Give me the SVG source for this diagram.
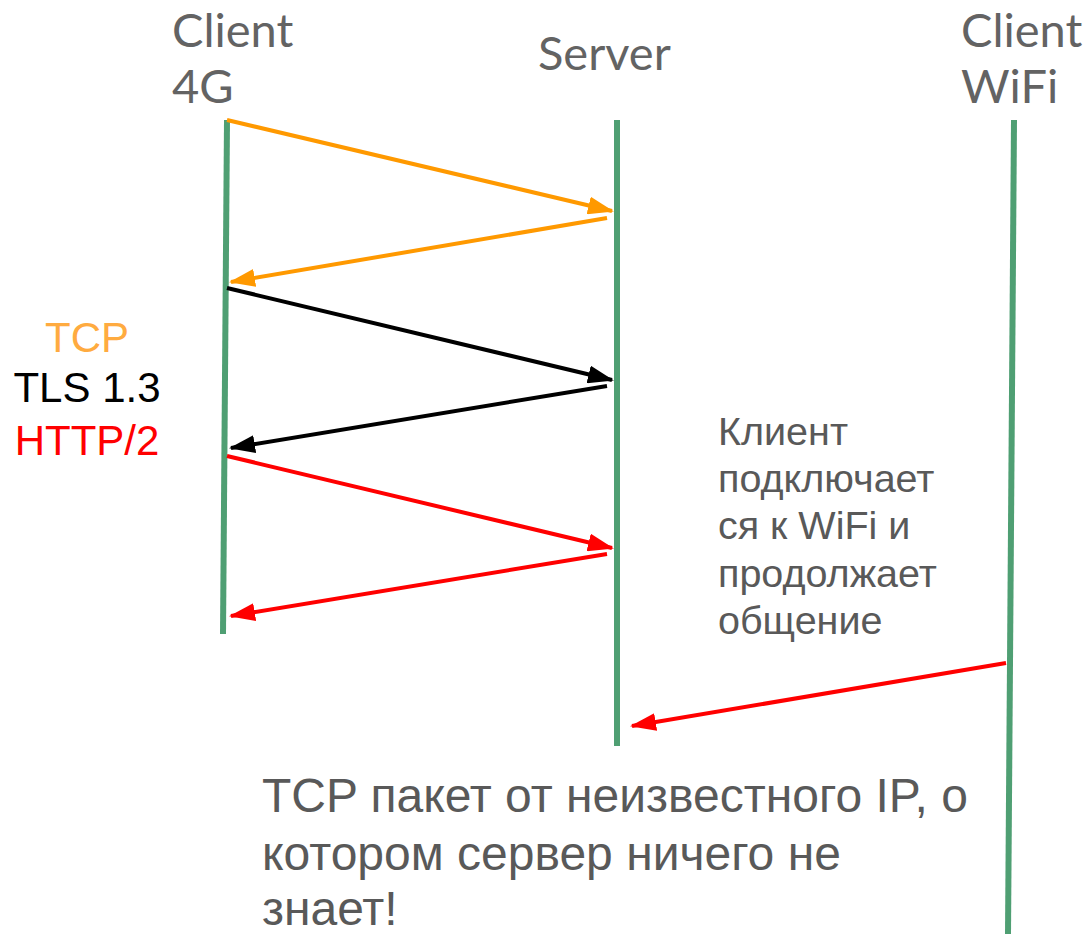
<svg xmlns="http://www.w3.org/2000/svg" width="1087" height="934" viewBox="0 0 1087 934">
<style>
.hdr{font-family:Lato,"Open Sans",sans-serif;font-size:47px;fill:#636363}
.life{stroke:#4f9f73;stroke-width:6;fill:none}
.msg{stroke-width:4;fill:none}
.or{stroke:#ff9900}
.bk{stroke:#000}
.rd{stroke:#ff0000}
.lbl{font-family:"Liberation Sans",Arial,sans-serif}
</style>
<defs>
<marker id="ahO" viewBox="0 0 26 18" refX="24" refY="9" markerWidth="26" markerHeight="18" markerUnits="userSpaceOnUse" orient="auto"><path d="M0,0L26,9L0,18z" fill="#ff9900"/></marker>
<marker id="ahK" viewBox="0 0 26 18" refX="24" refY="9" markerWidth="26" markerHeight="18" markerUnits="userSpaceOnUse" orient="auto"><path d="M0,0L26,9L0,18z" fill="#000"/></marker>
<marker id="ahR" viewBox="0 0 26 18" refX="24" refY="9" markerWidth="26" markerHeight="18" markerUnits="userSpaceOnUse" orient="auto"><path d="M0,0L26,9L0,18z" fill="#ff0000"/></marker>
</defs>
<rect width="1087" height="934" fill="#fff"/>
<g id="client4g">
<text class="hdr" x="172" y="47">Client</text>
<text class="hdr" x="172" y="103">4G</text>
<line class="life" x1="227" y1="120" x2="223" y2="634"/>
</g>
<g id="server">
<text class="hdr" x="538" y="70">Server</text>
<line class="life" x1="617" y1="120" x2="617" y2="746"/>
</g>
<g id="clientwifi">
<text class="hdr" x="961" y="47">Client</text>
<text class="hdr" x="961" y="103">WiFi</text>
<line class="life" x1="1014" y1="120" x2="1008" y2="934"/>
</g>
<g id="connectors">
<line class="msg or" x1="227" y1="120" x2="612" y2="211" marker-end="url(#ahO)"/>
<line class="msg or" x1="607" y1="218" x2="231" y2="282" marker-end="url(#ahO)"/>
<line class="msg bk" x1="227" y1="288" x2="612" y2="380" marker-end="url(#ahK)"/>
<line class="msg bk" x1="607" y1="386" x2="231" y2="448" marker-end="url(#ahK)"/>
<line class="msg rd" x1="227" y1="456" x2="612" y2="548" marker-end="url(#ahR)"/>
<line class="msg rd" x1="607" y1="554" x2="231" y2="616" marker-end="url(#ahR)"/>
<line class="msg rd" x1="1006" y1="663" x2="632" y2="726" marker-end="url(#ahR)"/>
</g>
<g id="legend" class="lbl" font-size="42" text-anchor="middle">
<text x="87" y="352" fill="#ffab40">TCP</text>
<text x="87" y="402" fill="#000">TLS 1.3</text>
<text x="87" y="455" fill="#ff0000">HTTP/2</text>
</g>
<g id="note" class="lbl" font-size="39.5" fill="#595959">
<text x="718" y="445">Клиент</text>
<text x="718" y="492">подключает</text>
<text x="718" y="539">ся к WiFi и</text>
<text x="718" y="587">продолжает</text>
<text x="718" y="634">общение</text>
</g>
<g id="caption" class="lbl" font-size="48" fill="#595959">
<text x="262" y="812">TCP пакет от неизвестного IP, о</text>
<text x="262" y="870">котором сервер ничего не</text>
<text x="262" y="925">знает!</text>
</g>
</svg>
